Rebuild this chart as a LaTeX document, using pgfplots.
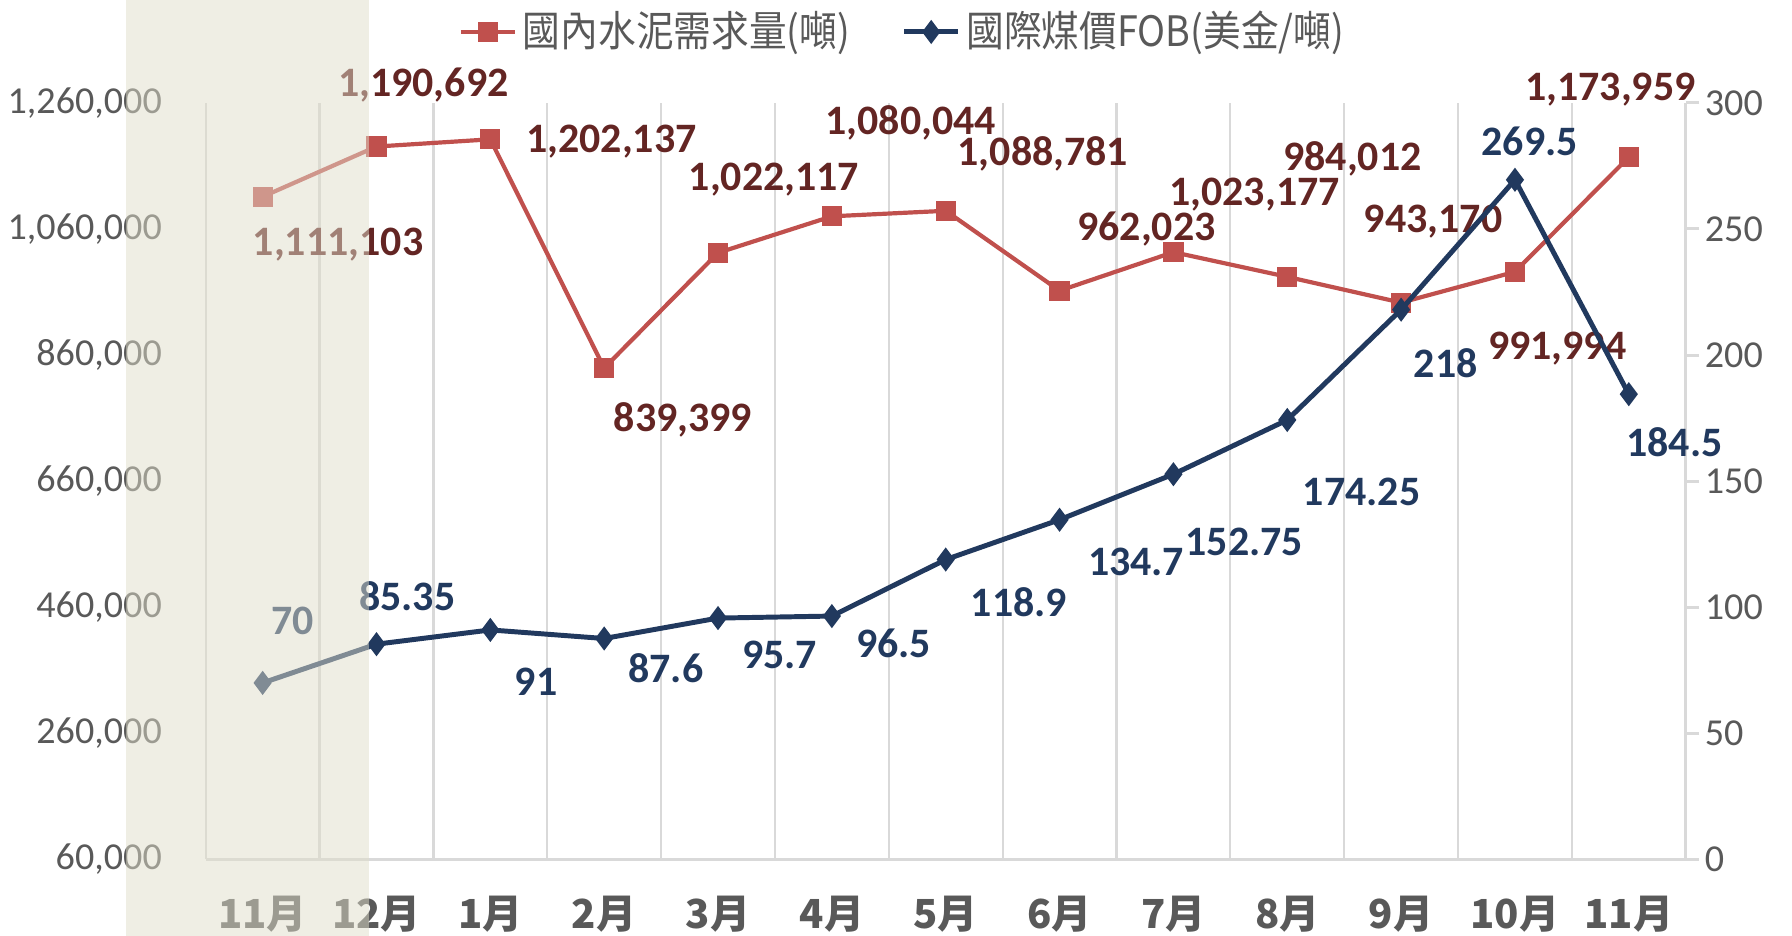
\documentclass[border=0pt]{standalone}
\usepackage{fontspec}
\setmainfont{Carlito}
\newfontfamily\cjk{Noto Sans CJK TC}
\newfontfamily\cjkn{Noto Sans CJK TC}[FakeStretch=0.9]
\usepackage{pgfplots}
\pgfplotsset{compat=1.18}
\usepackage{pgfplotstable}
\usetikzlibrary{calc}

\definecolor{cementred}{RGB}{192,80,77}
\definecolor{cementlab}{RGB}{99,37,35}
\definecolor{coalblue}{RGB}{33,57,94}
\definecolor{gridgrey}{RGB}{217,217,217}
\definecolor{txtgrey}{RGB}{89,89,89}
\definecolor{shadecol}{RGB}{223,221,202}

% x, value, label, label offset (pt)
\pgfplotstableread{
x y lab dx dy
0 1111103 1,111,103 19.8 -12.6
1 1190692 1,190,692 12.3 16.2
2 1202137 1,202,137 31.8 -0.6
3 839399 839,399 20.7 -13.5
4 1022117 1,022,117 14.7 19.2
5 1080044 1,080,044 20.7 24.6
6 1088781 1,088,781 25.5 15
7 962023 962,023 22.8 16.2
8 1023177 1,023,177 21.3 15
9 984012 984,012 17.1 30.9
10 943170 943,170 8.4 21.3
11 991994 991,994 11.1 -20.1
12 1173959 1,173,959 -4.8 17.7
}\cement

\pgfplotstableread{
x y lab dx dy
0 70 70 7.8 16.4
1 85.35 85.35 8.1 12.5
2 91 91 12 -13.5
3 87.6 87.6 16.2 -7.9
4 95.7 95.7 16.2 -9.7
5 96.5 96.5 16.2 -7.2
6 118.9 118.9 19.2 -11.2
7 134.7 134.7 20.1 -11.2
8 152.75 152.75 18.6 -17.7
9 174.25 174.25 19.5 -18.8
10 218 218 11.7 -14.1
11 269.5 269.5 3.9 10
12 184.5 184.5 12 -12.6
}\coal

\pgfplotsset{
  common/.style={
    width=388.5pt, height=198.6pt, scale only axis,
    xmin=-0.5, xmax=12.5, clip=false,
    /pgf/number format/assume math mode=true,
  },
  lab/.style={
    point meta=explicit symbolic,
    nodes near coords,
    visualization depends on={\thisrow{dx}\as\dx},
    visualization depends on={\thisrow{dy}\as\dy},
    every node near coord/.append style={anchor=center, xshift=\dx pt, yshift=\dy pt,
      font=\fontsize{11}{13}\selectfont\bfseries, inner sep=0pt},
  },
  cementstyle/.style={color=cementred, line width=1.1pt, mark=square*, mark size=2.1pt,
    mark options={solid}},
  coalstyle/.style={color=coalblue, line width=1.3pt, mark=diamond*, mark size=2.1pt,
    mark options={solid}},
}

\begin{document}
\begin{tikzpicture}
\begin{axis}[common, name=ax,
  ymin=60000, ymax=1260000,
  scaled y ticks=false,
  ytick={60000,260000,...,1260000},
  yticklabels={{60,000},{260,000},{460,000},{660,000},{860,000},{1,060,000},{1,260,000}},
  yticklabel style={font=\fontsize{10}{12}\selectfont, color=txtgrey, xshift=-8pt},
  axis x line*=bottom, axis y line*=left,
  y axis line style={draw=none},
  x axis line style={color=gridgrey, line width=1pt},
  xtick={0,...,12},
  xticklabels={11月,12月,1月,2月,3月,4月,5月,6月,7月,8月,9月,10月,11月},
  xticklabel style={font=\fontsize{10.5}{12}\selectfont\cjk\bfseries, color=txtgrey, yshift=-6pt},
  minor xtick={-0.5,0.5,...,12.5},
  xminorgrids=true,
  minor grid style={color=gridgrey, line width=0.6pt},
  major tick length=0pt, minor tick length=0pt,
]
\addplot[cementstyle, lab, every node near coord/.append style={color=cementlab}]
  table[x=x, y=y, meta=lab] {\cement};
\end{axis}

\begin{axis}[common,
  ymin=0, ymax=300,
  ytick={0,50,...,300},
  axis x line=none, axis y line*=right,
  y axis line style={color=gridgrey, line width=0.8pt},
  ytick style={color=gridgrey, line width=0.8pt},
  tick align=outside, major tick length=3.5pt,
  yticklabel style={font=\fontsize{10}{12}\selectfont, color=txtgrey, xshift=-2pt},
  legend columns=2,
  legend style={draw=none, fill=none, at={(0.472,1.0937)}, anchor=center,
    font=\fontsize{11}{13}\selectfont\cjkn, text=txtgrey,
    nodes={inner xsep=1.5pt},
    /tikz/every even column/.append style={column sep=12pt}},
  legend image code/.code={\draw[mark repeat=2, mark phase=2, #1]
    plot coordinates {(0cm,0cm) (0.25cm,0cm) (0.5cm,0cm)};},
]
\addlegendimage{cementstyle}
\addlegendentry{國內水泥需求量(噸)}
\addplot[coalstyle, lab, every node near coord/.append style={color=coalblue}]
  table[x=x, y=y, meta=lab] {\coal};
\addlegendentry{國際煤價FOB(美金/噸)}
\end{axis}

\fill[shadecol, fill opacity=0.5]
  ($(ax.south west)+(-21pt,-20.1pt)$) rectangle ($(ax.south west)+(42.9pt,225.6pt)$);

\pgfresetboundingbox
\path ($(ax.south west)+(-54pt,-20.1pt)$) rectangle ($(ax.north east)+(27.9pt,27pt)$);
\end{tikzpicture}
\end{document}
